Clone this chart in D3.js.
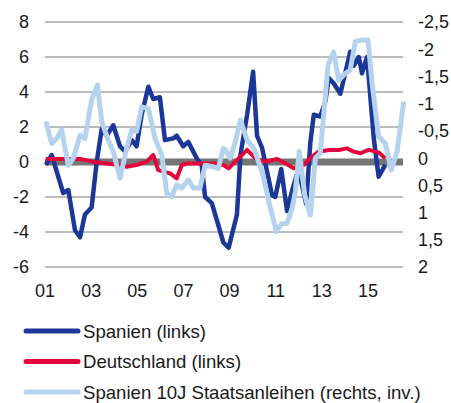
<!DOCTYPE html>
<html><head><meta charset="utf-8">
<script src="https://cdn.jsdelivr.net/npm/d3@7"></script>
<style>
html,body{margin:0;padding:0;background:#fff;}
svg{display:block;font-family:"Liberation Sans",Arial,sans-serif;}
</style></head>
<body>
<svg id="chart" width="451" height="403"></svg>
<script>
// ---- data (decimal year, value) ----
const spainT = [2001.04,2001.29,2001.79,2002.01,2002.30,2002.52,2002.73,2003.02,2003.24,2003.46,2003.67,2003.96,2004.25,2004.47,2004.76,2004.97,2005.19,2005.48,2005.69,2005.98,2006.20,2006.56,2006.71,2006.99,2007.21,2007.58,2007.79,2007.94,2008.23,2008.51,2008.73,2008.96,2009.32,2009.47,2009.76,2010.02,2010.19,2010.41,2010.84,2010.98,2011.24,2011.49,2011.72,2011.98,2012.32,2012.50,2012.65,2012.93,2013.15,2013.30,2013.51,2013.80,2014.23,2014.38,2014.60,2014.74,2014.96,2015.25,2015.46,2015.75];
const spainV = [-0.17,0.4,-1.77,-1.6,-3.9,-4.3,-3.0,-2.6,0.0,1.9,1.5,2.1,0.9,0.6,1.25,0.9,2.7,4.3,3.6,3.7,1.25,1.35,1.5,0.9,1.15,0.2,-0.17,-2.0,-2.35,-3.6,-4.6,-4.9,-3.0,0.4,2.7,5.16,1.5,0.8,-1.9,-2.0,-0.4,-2.8,-1.6,-0.4,-2.4,1.1,2.7,2.6,3.45,4.8,4.5,3.9,6.3,5.5,6.0,5.07,6.0,1.35,-0.84,-0.17];

const germanyT = [2001.04,2002.21,2002.52,2003.08,2003.67,2004.25,2004.54,2004.97,2005.41,2005.69,2005.91,2006.42,2006.71,2006.93,2007.21,2007.72,2008.30,2008.73,2008.96,2009.25,2009.76,2010.12,2010.55,2011.06,2011.42,2011.78,2012.21,2012.57,2012.86,2013.30,2013.73,2014.09,2014.38,2014.67,2015.03,2015.46,2015.75];
const germanyV = [0.17,0.17,0.17,0.02,-0.08,-0.17,-0.27,-0.17,0.02,0.4,-0.46,-0.65,-0.93,-0.17,-0.08,-0.08,-0.08,-0.17,-0.36,0.02,0.69,0.21,0.02,0.17,-0.08,-0.36,-0.17,0.3,0.59,0.69,0.69,0.78,0.59,0.5,0.69,0.55,0.21];

const bondT = [2001.04,2001.29,2001.51,2001.72,2002.01,2002.23,2002.52,2002.73,2003.02,2003.27,2003.46,2003.74,2003.96,2004.25,2004.54,2004.76,2004.97,2005.19,2005.48,2005.77,2006.06,2006.28,2006.49,2006.71,2006.93,2007.21,2007.43,2007.72,2007.94,2008.30,2008.51,2008.73,2008.82,2009.03,2009.25,2009.47,2009.76,2010.05,2010.41,2010.77,2011.03,2011.27,2011.49,2011.71,2011.85,2012.02,2012.26,2012.50,2012.72,2012.93,2013.15,2013.27,2013.51,2013.73,2013.95,2014.23,2014.45,2014.74,2015.00,2015.17,2015.46,2015.75,2016.01,2016.26,2016.55];
const bondV = [-0.67,-0.27,-0.36,-0.52,0.13,0.0,-0.42,-0.36,-1.07,-1.34,-0.67,-0.33,-0.12,0.37,-0.18,-0.52,-0.49,-0.94,-0.91,-0.36,-0.06,0.65,0.71,0.49,0.55,0.40,0.55,0.55,0.13,0.16,0.19,-0.18,-0.15,0.0,-0.30,-0.70,-0.33,-0.18,0.25,0.92,1.35,1.20,1.20,0.92,0.62,-0.12,0.68,1.05,0.0,-0.09,-1.13,-1.71,-1.95,-1.43,-1.53,-1.62,-2.14,-2.17,-2.17,-1.40,-0.39,-0.27,0.22,-0.12,-1.04];

const leftTicks = [8,6,4,2,0,-2,-4,-6];
const rightTicks = [-2.5,-2,-1.5,-1,-0.5,0,0.5,1,1.5,2];
const xTicks = [2001,2003,2005,2007,2009,2011,2013,2015];
const legendLabels = ["Spanien (links)","Deutschland (links)","Spanien 10J Staatsanleihen (rechts, inv.)"];
const colors = ["#1b3797","#e2063d","#b5d3ef"];

// ---- scales ----
const svg = d3.select("#chart");
const x = d3.scaleLinear().domain([2001, 2016.56]).range([45, 404]);
const yL = d3.scaleLinear().domain([-6, 8]).range([267, 22]);
const yR = d3.scaleLinear().domain([2, -2.5]).range([267, 22]);

// gridlines
svg.append("g").selectAll("line").data(leftTicks.filter(d => d !== 0)).join("line")
  .attr("x1", 45).attr("x2", 403)
  .attr("y1", d => yL(d)).attr("y2", d => yL(d))
  .attr("stroke", "#a6a6a6").attr("stroke-width", 1.5);
// zero band
svg.append("line").attr("x1", 45).attr("x2", 403)
  .attr("y1", yL(0)).attr("y2", yL(0))
  .attr("stroke", "#767676").attr("stroke-width", 7);

// left axis labels
const fmt = d => String(d).replace(".", ",");
svg.append("g").selectAll("text").data(leftTicks).join("text")
  .attr("x", 29).attr("y", d => yL(d)).attr("dy", "0.36em")
  .attr("text-anchor", "end").attr("font-size", 18).attr("fill", "#1a1a1a")
  .text(fmt);
// right axis labels
svg.append("g").selectAll("text").data(rightTicks).join("text")
  .attr("x", 418).attr("y", d => yR(d)).attr("dy", "0.36em")
  .attr("text-anchor", "start").attr("font-size", 18).attr("fill", "#1a1a1a")
  .text(fmt);
// x labels
svg.append("g").selectAll("text").data(xTicks).join("text")
  .attr("x", d => x(d)).attr("y", 297)
  .attr("text-anchor", "middle").attr("font-size", 18).attr("fill", "#1a1a1a")
  .text(d => String(d % 100).padStart(2, "0"));

// lines
const mk = (T, V, ys) => d3.line().x((d, i) => x(T[i])).y((d, i) => ys(V[i]))(V);
svg.append("path").attr("d", mk(spainT, spainV, yL)).attr("fill", "none")
  .attr("stroke", colors[0]).attr("stroke-width", 4.5).attr("stroke-linejoin", "round");
svg.append("path").attr("d", mk(germanyT, germanyV, yL)).attr("fill", "none")
  .attr("stroke", colors[1]).attr("stroke-width", 4).attr("stroke-linejoin", "round");
svg.append("path").attr("d", mk(bondT, bondV, yR)).attr("fill", "none")
  .attr("stroke", colors[2]).attr("stroke-width", 5).attr("stroke-linejoin", "round");

// legend
const lg = svg.append("g").selectAll("g").data(legendLabels).join("g")
  .attr("transform", (d, i) => `translate(0,${331 + i * 30.5})`);
lg.append("line").attr("x1", 26).attr("x2", 78).attr("y1", 0).attr("y2", 0)
  .attr("stroke", (d, i) => colors[i]).attr("stroke-width", 5).attr("stroke-linecap", "round");
lg.append("text").attr("x", 83).attr("y", 0).attr("dy", "0.36em")
  .attr("font-size", 18.6).attr("fill", "#1a1a1a").text(d => d);
</script>
</body></html>
